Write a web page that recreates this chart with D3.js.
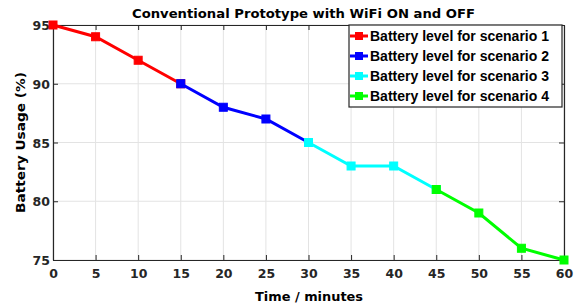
<!DOCTYPE html>
<html>
<head>
<meta charset="utf-8">
<script src="https://cdn.jsdelivr.net/npm/d3@7"></script>
<style>
  body { margin: 0; background: #fff; }
  svg text { font-family: "DejaVu Sans", sans-serif; font-weight: bold; }
</style>
</head>
<body>
<svg id="chart" width="580" height="304"></svg>
<script>
// data
let minutes = [0, 5, 10, 15, 20, 25, 30, 35, 40, 45, 50, 55, 60];
let battery = [95, 94, 92, 90, 88, 87, 85, 83, 83, 81, 79, 76, 75];
let seriesNames = ["Battery level for scenario 1", "Battery level for scenario 2",
                   "Battery level for scenario 3", "Battery level for scenario 4"];
let seriesColors = ["#ff0000", "#0000ff", "#00ffff", "#00ff00"];
// each scenario covers 4 points, sharing the end point with the next one
let seriesRange = [[0, 3], [3, 6], [6, 9], [9, 12]];
let xTicks = [0, 5, 10, 15, 20, 25, 30, 35, 40, 45, 50, 55, 60];
let yTicks = [75, 80, 85, 90, 95];

let svg = d3.select("#chart");
let plotLeft = 53, plotRight = 564, plotTop = 25, plotBottom = 260;
let axisColor = "#262626";

let x = d3.scaleLinear().domain([0, 60]).range([plotLeft, plotRight]);
let y = d3.scaleLinear().domain([75, 95]).range([plotBottom, plotTop]);

// grid
svg.append("g").selectAll("line").data(xTicks).enter().append("line")
  .attr("x1", d => x(d)).attr("x2", d => x(d))
  .attr("y1", plotTop).attr("y2", plotBottom)
  .attr("stroke", "#e3e3e3").attr("stroke-width", 1);
svg.append("g").selectAll("line").data(yTicks).enter().append("line")
  .attr("x1", plotLeft).attr("x2", plotRight)
  .attr("y1", d => y(d)).attr("y2", d => y(d))
  .attr("stroke", "#e3e3e3").attr("stroke-width", 1);

// axes, ticks pointing inward
let xAxis = svg.append("g")
  .attr("transform", `translate(0,${plotBottom})`)
  .call(d3.axisBottom(x).tickValues(xTicks).tickSizeInner(-5).tickSizeOuter(0).tickPadding(9));
let xTop = svg.append("g")
  .attr("transform", `translate(0,${plotTop})`)
  .call(d3.axisTop(x).tickValues(xTicks).tickSizeInner(-5).tickSizeOuter(0).tickFormat(""));
let yAxis = svg.append("g")
  .attr("transform", `translate(${plotLeft},0)`)
  .call(d3.axisLeft(y).tickValues(yTicks).tickSizeInner(-5).tickSizeOuter(0).tickPadding(3));
let yRight = svg.append("g")
  .attr("transform", `translate(${plotRight},0)`)
  .call(d3.axisRight(y).tickValues(yTicks).tickSizeInner(-5).tickSizeOuter(0).tickFormat(""));

[xAxis, xTop, yAxis, yRight].forEach(g => {
  g.select(".domain").attr("stroke", axisColor).attr("stroke-width", 1.2);
  g.selectAll(".tick line").attr("stroke", axisColor);
  g.selectAll("text").attr("fill", axisColor).style("font-size", "12.5px");
  g.attr("font-family", null);
});
yAxis.selectAll("text").attr("dy", "0.36em");

// lines and markers
let line = d3.line().x(i => x(minutes[i])).y(i => y(battery[i]));
seriesRange.forEach((r, s) => {
  let idx = d3.range(r[0], r[1] + 1);
  svg.append("path")
    .attr("d", line(idx))
    .attr("fill", "none")
    .attr("stroke", seriesColors[s])
    .attr("stroke-width", 3);
  svg.append("g").selectAll("rect").data(idx).enter().append("rect")
    .attr("x", i => x(minutes[i]) - 4)
    .attr("y", i => y(battery[i]) - 4)
    .attr("width", 8).attr("height", 8)
    .attr("fill", seriesColors[s])
    .attr("stroke", seriesColors[s])
    .attr("stroke-width", 1);
});

// title and axis labels
svg.append("text")
  .attr("x", 303.5).attr("y", 18)
  .attr("text-anchor", "middle")
  .attr("textLength", 343).attr("lengthAdjust", "spacingAndGlyphs")
  .style("font-size", "13px")
  .text("Conventional Prototype with WiFi ON and OFF");

svg.append("text")
  .attr("x", 309).attr("y", 301)
  .attr("text-anchor", "middle")
  .attr("textLength", 108).attr("lengthAdjust", "spacingAndGlyphs")
  .style("font-size", "13px")
  .text("Time / minutes");

svg.append("text")
  .attr("transform", "rotate(-90)")
  .attr("x", -142.5).attr("y", 25)
  .attr("text-anchor", "middle")
  .attr("textLength", 141).attr("lengthAdjust", "spacingAndGlyphs")
  .style("font-size", "13px")
  .text("Battery Usage (%)");

// legend
let legend = svg.append("g");
legend.append("rect")
  .attr("x", 349).attr("y", 25)
  .attr("width", 213).attr("height", 82)
  .attr("fill", "#fff").attr("stroke", axisColor).attr("stroke-width", 1.2);
seriesNames.forEach((name, s) => {
  let cy = 36 + s * 20;
  legend.append("line")
    .attr("x1", 350).attr("x2", 368).attr("y1", cy).attr("y2", cy)
    .attr("stroke", seriesColors[s]).attr("stroke-width", 3);
  legend.append("rect")
    .attr("x", 355).attr("y", cy - 4).attr("width", 8).attr("height", 8)
    .attr("fill", seriesColors[s]);
  let t = legend.append("text")
    .attr("x", 370).attr("y", cy + 5)
    .style("font-family", "'Liberation Sans', Arial, sans-serif")
    .style("font-size", "14px")
    .attr("fill", "#000")
    .text(name);
  // shrink the font so the label fits inside the box
  let w = t.node().getComputedTextLength();
  if (w > 188) t.style("font-size", (14 * 188 / w) + "px");
});
</script>
</body>
</html>
